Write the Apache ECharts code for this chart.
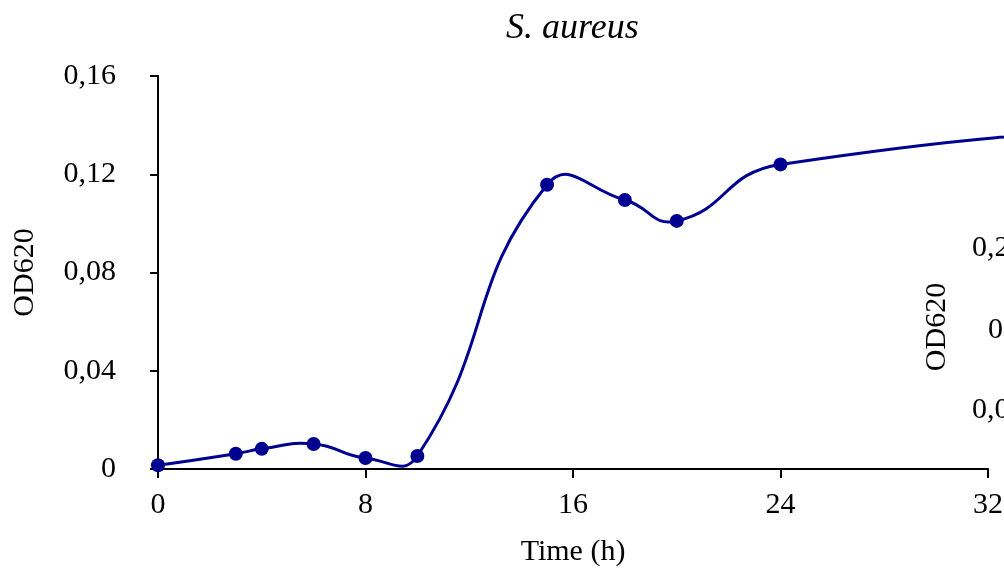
<!DOCTYPE html>
<html>
<head>
<meta charset="utf-8">
<script src="https://cdn.jsdelivr.net/npm/echarts@6/dist/echarts.min.js"></script>
<style>
  html, body { margin: 0; padding: 0; background: #fff; }
  #chart { width: 1004px; height: 568px; }
</style>
</head>
<body>
<div id="chart"></div>
<script>
// growth of S. aureus, OD620 against time
var hours = [0, 3, 4, 6, 8, 10, 15, 18, 20, 24, 48]
var od620 = [0.0015, 0.0062, 0.0082, 0.0102, 0.0045, 0.0053, 0.1157, 0.1095, 0.101, 0.124, 0.145]
var xTicks = [0, 8, 16, 24, 32]
var yTicks = [0, 0.04, 0.08, 0.12, 0.16]

var font = 'Liberation Serif'
var navy = '#000090'

var points = hours.map(function (h, i) { return [h, od620[i]] })

// smooth curve like the spreadsheet one (no clamping, so it may overshoot)
function smoothPath(pts, k) {
  var d = 'M' + pts[0][0] + ' ' + pts[0][1]
  var cps = pts.map(function (p, i) {
    var prev = pts[i - 1] || p
    var next = pts[i + 1] || p
    var vx = next[0] - prev[0], vy = next[1] - prev[1]
    var l0 = Math.hypot(p[0] - prev[0], p[1] - prev[1])
    var l1 = Math.hypot(next[0] - p[0], next[1] - p[1])
    var r = (l0 + l1) ? l1 / (l0 + l1) : 0.5
    return {
      inX: p[0] - vx * k * (1 - r), inY: p[1] - vy * k * (1 - r),
      outX: p[0] + vx * k * r, outY: p[1] + vy * k * r
    }
  })
  for (var i = 1; i < pts.length; i++) {
    d += ' C' + cps[i - 1].outX + ' ' + cps[i - 1].outY + ' ' +
      cps[i].inX + ' ' + cps[i].inY + ' ' + pts[i][0] + ' ' + pts[i][1]
  }
  return d
}

var myChart = echarts.init(document.getElementById('chart'))
var option = {
  animation: false,
  title: {
    text: 'S. aureus',
    left: 501,
    top: 6,
    textStyle: { fontFamily: font, fontSize: 36, fontStyle: 'italic', fontWeight: 'normal', color: '#000' }
  },
  grid: { left: 158, right: 16, top: 76, bottom: 99, containLabel: false, outerBoundsMode: 'none' },
  xAxis: {
    type: 'value',
    min: xTicks[0],
    max: xTicks[xTicks.length - 1],
    interval: 8,
    name: 'Time (h)',
    nameLocation: 'middle',
    nameGap: 68,
    nameTextStyle: { fontFamily: font, fontSize: 30, color: '#000' },
    axisLine: { lineStyle: { color: '#000', width: 2 } },
    axisTick: { length: 9, lineStyle: { color: '#000', width: 2 } },
    axisLabel: { fontFamily: font, fontSize: 30, color: '#000', margin: 21 },
    splitLine: { show: false }
  },
  yAxis: {
    type: 'value',
    min: yTicks[0],
    max: yTicks[yTicks.length - 1],
    interval: 0.04,
    name: 'OD620',
    nameLocation: 'middle',
    nameGap: 118,
    nameTextStyle: { fontFamily: font, fontSize: 30, color: '#000' },
    axisLine: { show: true, lineStyle: { color: '#000', width: 2 } },
    axisTick: { show: true, length: 8, lineStyle: { color: '#000', width: 2 } },
    axisLabel: {
      fontFamily: font, fontSize: 30, color: '#000', margin: 42,
      formatter: function (v) { return v === 0 ? '0' : String(+v.toFixed(2)).replace('.', ',') }
    },
    splitLine: { show: false }
  },
  graphic: [
    { type: 'text', left: 972, top: 233, style: { text: '0,2', font: '30px "Liberation Serif"', fill: '#000' } },
    { type: 'text', left: 988, top: 315, style: { text: '0', font: '30px "Liberation Serif"', fill: '#000' } },
    { type: 'text', left: 972, top: 395, style: { text: '0,0', font: '30px "Liberation Serif"', fill: '#000' } },
    {
      type: 'text', x: 937, y: 327, rotation: Math.PI / 2,
      style: { text: 'OD620', font: '30px "Liberation Serif"', fill: '#000', align: 'center', verticalAlign: 'middle' }
    }
  ],
  series: [
    {
      type: 'custom',
      data: points,
      clip: false,
      z: 2,
      renderItem: function (params, api) {
        if (params.dataIndex !== 0) return null
        var px = points.map(function (p) { return api.coord(p) })
        return {
          type: 'path',
          shape: { pathData: smoothPath(px, 0.5) },
          style: { stroke: navy, lineWidth: 3, fill: 'none' }
        }
      }
    },
    {
      type: 'scatter',
      data: points,
      z: 3,
      symbol: 'circle',
      symbolSize: 14,
      itemStyle: { color: navy, opacity: 1 }
    }
  ]
}

myChart.setOption(option)
</script>
</body>
</html>
